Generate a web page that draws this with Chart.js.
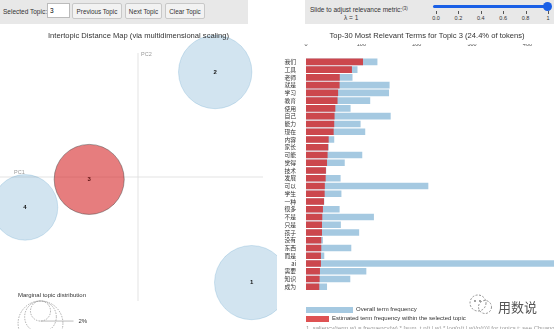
<!DOCTYPE html>
<html lang="zh">
<head>
<meta charset="UTF-8">
<title>LDA Topic Explorer</title>
<script src="https://cdn.jsdelivr.net/npm/chart.js"></script>
<style>
    body {
        margin: 0;
        width: 554px;
        height: 329px;
        overflow: hidden;
        position: relative;
        background: #fff;
        font-family: 'Liberation Sans', Arial, sans-serif;
        color: #333;
    }
    .abs { position: absolute; }
    .panel { position: absolute; top: 0; height: 24px; background: #e8e8e8; }
    .btn {
        position: absolute; top: 3px; height: 16px; padding: 0;
        font: 6.3px 'Liberation Sans', Arial, sans-serif; color: #333;
        background: #f2f2f2; border: 1px solid #c8c8c8; border-radius: 2px;
    }
    .title { position: absolute; font-size: 7.6px; color: #333; text-align: center; white-space: nowrap; z-index: 2; }
    .small { font-size: 6px; white-space: nowrap; }
</style>
</head>
<body>
    <!-- topic controls -->
    <div class="panel" style="left:0;width:248px;">
        <span class="abs" style="left:3px;top:8px;font-size:6.5px;">Selected Topic:</span>
        <input class="abs" value="3" style="left:47px;top:3px;width:19px;height:13px;padding:0 0 0 2px;border:1px solid #bbb;font:6.5px 'Liberation Sans',Arial;">
        <button class="btn" style="left:72px;width:50px;">Previous Topic</button>
        <button class="btn" style="left:125px;width:37px;">Next Topic</button>
        <button class="btn" style="left:165px;width:40px;">Clear Topic</button>
    </div>

    <!-- relevance slider -->
    <div class="panel" style="left:305px;width:249px;">
        <span class="abs" style="left:5px;top:6px;font-size:6.5px;white-space:nowrap;">Slide to adjust relevance metric:<span style="font-size:4.5px;vertical-align:top;">(3)</span></span>
        <span class="abs" style="left:39px;top:14px;font-size:6.5px;">λ = 1</span>
        <div class="abs" style="left:128px;top:5px;width:114px;height:3px;background:#1a5fe6;border-radius:2px;"></div>
        <div class="abs" style="left:238px;top:2px;width:9px;height:9px;background:#1a5fe6;border-radius:50%;"></div>
        <div id="lambdaAxis"></div>
    </div>

    <div class="title" style="left:0;width:277px;top:31px;">Intertopic Distance Map (via multidimensional scaling)</div>
    <div class="title" style="left:300px;width:254px;top:31px;">Top-30 Most Relevant Terms for Topic 3 (24.4% of tokens)</div>

    <canvas id="mds" class="abs" width="277" height="303" style="left:0;top:26px;"></canvas>
    <div class="abs small" style="left:18px;top:292px;">Marginal topic distribution</div>

    <canvas id="bars" class="abs" width="270" height="252" style="left:284px;top:44px;"></canvas>

    <!-- bar legend -->
    <div class="abs" style="left:306px;top:307px;width:47px;height:6px;background:rgba(31,119,180,0.4);"></div>
    <div class="abs small" style="left:356px;top:306px;">Overall term frequency</div>
    <div class="abs" style="left:306px;top:316px;width:23px;height:6px;background:rgba(214,39,40,0.8);"></div>
    <div class="abs small" style="left:332px;top:315px;">Estimated term frequency within the selected topic</div>
    <div class="abs small" style="left:306px;top:325px;color:#999;">1. saliency(term w) = frequency(w) * [sum_t p(t | w) * log(p(t | w)/p(t))] for topics t; see Chuang et. al (2012)</div>

    <!-- watermark -->
    <svg class="abs" style="left:468px;top:293px;" width="28" height="24">
        <circle cx="10" cy="10" r="8" fill="none" stroke="#777" stroke-width="0.8" stroke-dasharray="2,1.5"/>
        <circle cx="17" cy="14" r="6.5" fill="none" stroke="#777" stroke-width="0.8" stroke-dasharray="2,1.5"/>
        <circle cx="7" cy="8" r="0.9" fill="#777"/>
        <circle cx="12" cy="8" r="0.9" fill="#777"/>
    </svg>
    <div class="abs" style="left:498px;top:297px;font:13px 'Noto Sans CJK SC';color:#555;">用数说</div>

<script>
    // topic-term data
    const terms = ['我们', '工具', '老师', '就是', '学习', '教育', '使用', '自己', '能力', '现在',
                   '内容', '家长', '可能', '觉得', '技术', '发展', '可以', '学生', '一种', '很多',
                   '不是', '只是', '孩子', '有没有', '东西', '而是', 'ai', '需要', '知识', '成为'];
    const topicFreq = [103, 83, 61, 60.7, 58, 57, 53, 51.6, 51, 50,
                       41, 40, 39, 38, 36, 35.5, 34, 33.7, 32.5, 30.6,
                       29.4, 28.9, 28.9, 27.6, 27.6, 27, 27, 25.2, 24.6, 24];
    const overallFreq = [129, 93, 84, 151, 150, 116, 80.5, 153, 98.6, 107,
                         51, 41, 101.6, 70, 36.5, 62.5, 221, 64, 33, 60.7,
                         122.7, 63, 96, 30.6, 81.8, 33, 480, 109, 80, 38];
    const freqTicks = [0, 100, 200, 300, 400];

    // intertopic map data
    const topicIds = [1, 2, 3, 4];
    const pc1 = [0.284, 0.193, -0.122, -0.2825];
    const pc2 = [-0.264, 0.2625, -0.006, -0.076];
    const tokenShare = [27.4, 26.8, 24.4, 21.4];   // % of tokens
    const guideShares = [2, 5, 10];
    const selectedTopic = 3;
    const lambdaTicks = ['0.0', '0.2', '0.4', '0.6', '0.8', '1'];

    // circle area proportional to token share
    const rScale = share => 7.09 * Math.sqrt(share);

    // lambda axis under the slider
    const lambdaAxis = document.getElementById('lambdaAxis');
    lambdaTicks.forEach((t, i) => {
        const x = 131 + i * 22.4;
        lambdaAxis.insertAdjacentHTML('beforeend',
            `<div class="abs" style="left:${x}px;top:11px;width:0.6px;height:3px;background:#555;"></div>` +
            `<div class="abs" style="left:${x - 10}px;top:15px;width:20px;text-align:center;font-size:5.5px;">${t}</div>`);
    });

    const mdsDecor = {
        id: 'mdsDecor',
        beforeDatasetsDraw(chart) {
            const { ctx, scales: { x, y } } = chart;
            const x0 = x.getPixelForValue(0), y0 = y.getPixelForValue(0);
            ctx.save();
            ctx.strokeStyle = '#dcdcdc';
            ctx.lineWidth = 0.8;
            ctx.beginPath();
            ctx.moveTo(x0, 27); ctx.lineTo(x0, 275);
            ctx.moveTo(0, y0); ctx.lineTo(263, y0);
            ctx.stroke();
            ctx.fillStyle = '#999';
            ctx.font = '5.5px "Liberation Sans", Arial';
            ctx.fillText('PC2', x0 + 3, 30);
            ctx.fillText('PC1', 14, y0 - 3);

            // marginal distribution guide
            const cx = 40.5, top = 275;
            ctx.setLineDash([1.5, 1.2]);
            ctx.strokeStyle = '#999';
            guideShares.forEach(s => {
                const r = rScale(s);
                ctx.beginPath();
                ctx.arc(cx, top + r, r, 0, Math.PI * 2);
                ctx.stroke();
            });
            ctx.setLineDash([]);
            const rs = rScale(guideShares[0]);
            ctx.strokeStyle = '#aaa';
            ctx.beginPath();
            ctx.moveTo(cx, top + 2 * rs); ctx.lineTo(cx + 33, top + 2 * rs);
            ctx.stroke();
            ctx.fillStyle = '#333';
            ctx.font = '6px "Liberation Sans", Arial';
            ctx.textBaseline = 'middle';
            ctx.fillText(guideShares[0] + '%', cx + 38, top + 2 * rs);
            ctx.restore();
        },
        afterDatasetsDraw(chart) {
            const { ctx } = chart;
            const meta = chart.getDatasetMeta(0);
            ctx.save();
            ctx.font = 'bold 6px "Liberation Sans", Arial';
            ctx.textAlign = 'center';
            ctx.textBaseline = 'middle';
            meta.data.forEach((pt, i) => {
                ctx.fillStyle = topicIds[i] === selectedTopic ? '#5a1010' : '#111';
                ctx.fillText(topicIds[i], pt.x, pt.y);
            });
            ctx.restore();
        }
    };

    new Chart(document.getElementById('mds'), {
        type: 'bubble',
        data: {
            datasets: [{
                data: topicIds.map((id, i) => ({ x: pc1[i], y: pc2[i], r: rScale(tokenShare[i]) })),
                backgroundColor: topicIds.map(id => id === selectedTopic ? 'rgba(214,39,40,0.6)' : 'rgba(31,119,180,0.2)'),
                borderColor: topicIds.map(id => id === selectedTopic ? 'rgba(70,70,70,0.6)' : 'rgba(31,119,180,0.22)'),
                borderWidth: 0.8,
                clip: false
            }]
        },
        options: {
            responsive: false,
            animation: false,
            events: [],
            layout: { padding: 0, autoPadding: false },
            plugins: { legend: { display: false }, tooltip: { enabled: false } },
            scales: {
                x: { display: false, min: -0.345, max: 0.3475 },
                y: { display: false, min: -0.38, max: 0.3775 }
            }
        },
        plugins: [mdsDecor]
    });

    new Chart(document.getElementById('bars'), {
        type: 'bar',
        data: {
            labels: terms,
            datasets: [
                {
                    label: 'Estimated term frequency within the selected topic',
                    data: topicFreq,
                    backgroundColor: 'rgba(214,39,40,0.8)',
                    grouped: false,
                    categoryPercentage: 1,
                    barPercentage: 0.84
                },
                {
                    label: 'Overall term frequency',
                    data: overallFreq,
                    backgroundColor: 'rgba(31,119,180,0.4)',
                    grouped: false,
                    categoryPercentage: 1,
                    barPercentage: 0.84
                }
            ]
        },
        options: {
            indexAxis: 'y',
            responsive: false,
            animation: false,
            events: [],
            layout: { padding: 0 },
            plugins: { legend: { display: false }, tooltip: { enabled: false } },
            scales: {
                x: {
                    position: 'top',
                    min: 0,
                    max: 448,
                    afterBuildTicks: s => { s.ticks = freqTicks.map(v => ({ value: v })); },
                    afterFit: s => { s.height = 14; },
                    grid: { display: false },
                    border: { display: false },
                    ticks: { font: { size: 5.5, family: 'Liberation Sans' }, color: '#555', padding: 2, maxRotation: 0 }
                },
                y: {
                    afterFit: s => { s.width = 22; },
                    grid: { display: false },
                    border: { display: false },
                    ticks: { autoSkip: false, font: { size: 5.8, family: 'Noto Sans CJK SC' }, color: '#333', padding: 2 }
                }
            }
        }
    });
</script>
</body>
</html>
